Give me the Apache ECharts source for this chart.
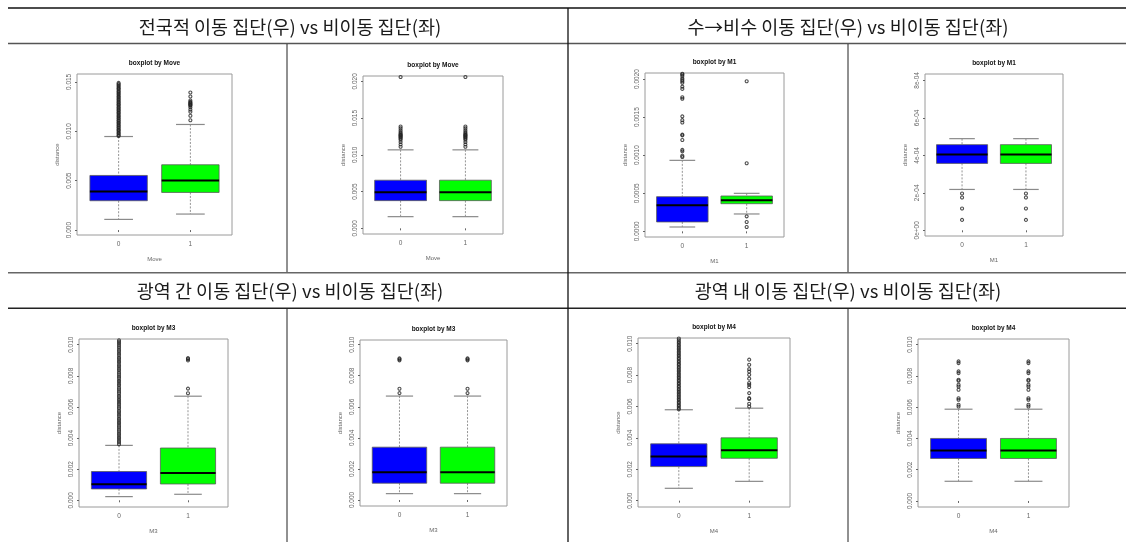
<!DOCTYPE html>
<html>
<head>
<meta charset="utf-8">
<script src="https://cdn.jsdelivr.net/npm/echarts@6/dist/echarts.min.js"></script>
<style>
  html, body { margin: 0; padding: 0; background: #fff; }
  #chart { width: 1126px; height: 542px; }
</style>
</head>
<body>
<div id="chart"></div>
<script>
// ---- section headings ----
const headings = [
  '전국적 이동 집단(우) vs 비이동 집단(좌)',
  '수→비수 이동 집단(우) vs 비이동 집단(좌)',
  '광역 간 이동 집단(우) vs 비이동 집단(좌)',
  '광역 내 이동 집단(우) vs 비이동 집단(좌)'
];

// group labels on every x axis (non-mover = 0, mover = 1)
const groupLabels = ['0', '1'];

// ---- y tick values and labels ----
const ticksMove = [0, 0.005, 0.010, 0.015];
const tickLabelsMove = ['0.000', '0.005', '0.010', '0.015'];
const ticksMoveRef = [0, 0.005, 0.010, 0.015, 0.020];
const tickLabelsMoveRef = ['0.000', '0.005', '0.010', '0.015', '0.020'];
const ticksM1 = [0, 0.0005, 0.0010, 0.0015, 0.0020];
const tickLabelsM1 = ['0.0000', '0.0005', '0.0010', '0.0015', '0.0020'];
const ticksM1Ref = [0, 0.0002, 0.0004, 0.0006, 0.0008];
const tickLabelsM1Ref = ['0e+00', '2e-04', '4e-04', '6e-04', '8e-04'];
const ticksM34 = [0, 0.002, 0.004, 0.006, 0.008, 0.010];
const tickLabelsM34 = ['0.000', '0.002', '0.004', '0.006', '0.008', '0.010'];

// ---- box statistics: [lower whisker, Q1, median, Q3, upper whisker] for groups 0 and 1 ----
const boxMove = [[0.00108, 0.00297, 0.00391, 0.00553, 0.00947], [0.00162, 0.00381, 0.00502, 0.00661, 0.01069]];
const boxMoveRef = [[0.00159, 0.00377, 0.00491, 0.00655, 0.01068], [0.00159, 0.00377, 0.00491, 0.00655, 0.01068]];
const boxM1 = [[0.000057, 0.000123, 0.000341, 0.000455, 0.000932], [0.000228, 0.000363, 0.000407, 0.000464, 0.000499]];
const boxM1Ref = [[0.000218, 0.000357, 0.000404, 0.000457, 0.000489], [0.000218, 0.000357, 0.000404, 0.000457, 0.000489]];
const boxM3 = [[0.000237, 0.000731, 0.00103, 0.00185, 0.00353], [0.000387, 0.00105, 0.00176, 0.00336, 0.00669]];
const boxM3Ref = [[0.000409, 0.00108, 0.00179, 0.00340, 0.00669], [0.000409, 0.00108, 0.00179, 0.00340, 0.00669]];
const boxM4 = [[0.000787, 0.00217, 0.00281, 0.00362, 0.00579], [0.00123, 0.00270, 0.00321, 0.00400, 0.00589]];
const boxM4Ref = [[0.00126, 0.00272, 0.00323, 0.00400, 0.00587], [0.00126, 0.00272, 0.00323, 0.00400, 0.00587]];

// ---- outliers per group ----
const outMove0 = [0.00952, 0.00961, 0.00975, 0.00984, 0.00998, 0.01011, 0.01019, 0.01034, 0.01043, 0.01057,
  0.01066, 0.01081, 0.01090, 0.01104, 0.01113, 0.01128, 0.01137, 0.01151, 0.01160, 0.01174, 0.01186, 0.01195,
  0.01210, 0.01218, 0.01233, 0.01242, 0.01256, 0.01268, 0.01277, 0.01292, 0.01300, 0.01315, 0.01324, 0.01338,
  0.01350, 0.01359, 0.01374, 0.01382, 0.01397, 0.01406, 0.01420, 0.01432, 0.01441, 0.01455, 0.01466, 0.01478, 0.01490];
const outMove1 = [0.01112, 0.01158, 0.01198, 0.01219, 0.01242, 0.01258, 0.01266, 0.01274, 0.01281, 0.01290,
  0.01298, 0.01312, 0.01352, 0.01393];
const outMoveRef0 = [0.01110, 0.01142, 0.01175, 0.01205, 0.01222, 0.01236, 0.01248, 0.01259, 0.01268, 0.01279,
  0.01292, 0.01310, 0.01335, 0.01362, 0.01386, 0.0206];
const outMoveRef1 = [0.01110, 0.01142, 0.01175, 0.01205, 0.01222, 0.01236, 0.01248, 0.01259, 0.01268, 0.01279,
  0.01292, 0.01310, 0.01335, 0.01362, 0.01386, 0.0206];
const outM1_0 = [0.000976, 0.000993, 0.00105, 0.00107, 0.00120, 0.00126, 0.00127, 0.00143, 0.00146, 0.00151,
  0.00174, 0.00176, 0.00187, 0.00190, 0.00195, 0.00197, 0.00199, 0.00201, 0.00204, 0.00206, 0.00207];
const outM1_1 = [0.000057, 0.000123, 0.000197, 0.000893, 0.00197];
const outM1Ref0 = [0.0000554, 0.000116, 0.000175, 0.000196];
const outM1Ref1 = [0.0000554, 0.000116, 0.000175, 0.000196];
const outM3_0 = [0.00360, 0.00372, 0.00383, 0.00396, 0.00407, 0.00420, 0.00431, 0.00444, 0.00455, 0.00468,
  0.00479, 0.00492, 0.00503, 0.00516, 0.00527, 0.00541, 0.00552, 0.00565, 0.00576, 0.00590, 0.00601, 0.00614,
  0.00626, 0.00638, 0.00650, 0.00663, 0.00674, 0.00688, 0.00699, 0.00712, 0.00723, 0.00737, 0.00748, 0.00761,
  0.00772, 0.00786, 0.00797, 0.00810, 0.00822, 0.00835, 0.00846, 0.00859, 0.00870, 0.00884, 0.00895, 0.00908,
  0.00919, 0.00933, 0.00944, 0.00957, 0.00968, 0.00981, 0.00993, 0.01006, 0.01017, 0.01028];
const outM3_1 = [0.00688, 0.00718, 0.00899, 0.00908, 0.00914];
const outM3Ref0 = [0.00688, 0.00716, 0.00899, 0.00906, 0.00912];
const outM3Ref1 = [0.00688, 0.00716, 0.00899, 0.00906, 0.00912];
const outM4_0 = [0.00582, 0.00591, 0.00602, 0.00611, 0.00622, 0.00631, 0.00642, 0.00651, 0.00662, 0.00671,
  0.00682, 0.00691, 0.00702, 0.00711, 0.00722, 0.00731, 0.00742, 0.00751, 0.00762, 0.00771, 0.00782, 0.00791,
  0.00802, 0.00811, 0.00822, 0.00831, 0.00842, 0.00851, 0.00862, 0.00871, 0.00882, 0.00891, 0.00902, 0.00911,
  0.00922, 0.00931, 0.00942, 0.00951, 0.00962, 0.00971, 0.00982, 0.00991, 0.01002, 0.01011, 0.01022, 0.01033];
const outM4_1 = [0.00600, 0.00617, 0.00647, 0.00653, 0.00685, 0.00723, 0.00738, 0.00749, 0.00777, 0.00802,
  0.00823, 0.00838, 0.00866, 0.00898];
const outM4Ref0 = [0.00604, 0.00615, 0.00647, 0.00657, 0.00711, 0.00732, 0.00743, 0.00769, 0.00775, 0.00818,
  0.00829, 0.00882, 0.00893];
const outM4Ref1 = [0.00604, 0.00615, 0.00647, 0.00657, 0.00711, 0.00732, 0.00743, 0.00769, 0.00775, 0.00818,
  0.00829, 0.00882, 0.00893];

// ---- panel layout (plot frame in pixels, y range, labels) ----
const panels = [
  { left: 77,  top: 74,  width: 155, height: 161, ymin: -0.0005,   ymax: 0.0158,   ticks: ticksMove,   labels: tickLabelsMove,   box: boxMove,    out: [outMove0, outMove1],       factor: 'Move' },
  { left: 363, top: 76,  width: 140, height: 158, ymin: -0.00077,  ymax: 0.02073,  ticks: ticksMoveRef, labels: tickLabelsMoveRef, box: boxMoveRef, out: [outMoveRef0, outMoveRef1], factor: 'Move' },
  { left: 645, top: 73,  width: 139, height: 164, ymin: -0.0000744, ymax: 0.002079, ticks: ticksM1,    labels: tickLabelsM1,     box: boxM1,      out: [outM1_0, outM1_1],         factor: 'M1' },
  { left: 925, top: 74,  width: 138, height: 162, ymin: -0.0000304, ymax: 0.000834, ticks: ticksM1Ref, labels: tickLabelsM1Ref,  box: boxM1Ref,   out: [outM1Ref0, outM1Ref1],     factor: 'M1' },
  { left: 79,  top: 339, width: 149, height: 168, ymin: -0.00043,  ymax: 0.010366, ticks: ticksM34,    labels: tickLabelsM34,    box: boxM3,      out: [outM3_0, outM3_1],         factor: 'M3' },
  { left: 360, top: 340, width: 147, height: 166, ymin: -0.000387, ymax: 0.0103,   ticks: ticksM34,    labels: tickLabelsM34,    box: boxM3Ref,   out: [outM3Ref0, outM3Ref1],     factor: 'M3' },
  { left: 638, top: 338, width: 152, height: 169, ymin: -0.000404, ymax: 0.01036,  ticks: ticksM34,    labels: tickLabelsM34,    box: boxM4,      out: [outM4_0, outM4_1],         factor: 'M4' },
  { left: 918, top: 339, width: 151, height: 168, ymin: -0.000385, ymax: 0.01036,  ticks: ticksM34,    labels: tickLabelsM34,    box: boxM4Ref,   out: [outM4Ref0, outM4Ref1],     factor: 'M4' }
];

const BOX_FILL = ['#0000ff', '#00ff00'];
const AXIS_GRAY = '#666';

function renderBox(params, api) {
  const x = api.value(0);
  const lo = api.value(1), q1 = api.value(2), med = api.value(3), q3 = api.value(4), hi = api.value(5);
  const tl = api.coord([x - 0.4, q3]);
  const br = api.coord([x + 0.4, q1]);
  const mL = api.coord([x - 0.4, med]);
  const mR = api.coord([x + 0.4, med]);
  const cHi = api.coord([x, hi]);
  const cQ3 = api.coord([x, q3]);
  const cQ1 = api.coord([x, q1]);
  const cLo = api.coord([x, lo]);
  const capHalf = (br[0] - tl[0]) / 4;
  const whisk = { stroke: '#7a7a7a', lineWidth: 0.8, lineDash: [2, 1.5] };
  const cap = { stroke: '#8a8a8a', lineWidth: 1.2 };
  return {
    type: 'group',
    children: [
      { type: 'line', shape: { x1: cHi[0], y1: cHi[1], x2: cQ3[0], y2: cQ3[1] }, style: whisk },
      { type: 'line', shape: { x1: cQ1[0], y1: cQ1[1], x2: cLo[0], y2: cLo[1] }, style: whisk },
      { type: 'line', shape: { x1: cHi[0] - capHalf, y1: cHi[1], x2: cHi[0] + capHalf, y2: cHi[1] }, style: cap },
      { type: 'line', shape: { x1: cLo[0] - capHalf, y1: cLo[1], x2: cLo[0] + capHalf, y2: cLo[1] }, style: cap },
      { type: 'rect', shape: { x: tl[0], y: tl[1], width: br[0] - tl[0], height: br[1] - tl[1] },
        style: { fill: BOX_FILL[params.dataIndex], stroke: '#5c5c5c', lineWidth: 0.8 } },
      { type: 'line', shape: { x1: mL[0], y1: mL[1], x2: mR[0], y2: mR[1] }, style: { stroke: '#000', lineWidth: 2 } }
    ]
  };
}

const grid = [], xAxis = [], yAxis = [], series = [];
const graphic = [];

panels.forEach((p, i) => {
  grid.push({ left: p.left, top: p.top, width: p.width, height: p.height, show: true,
    borderColor: '#9a9a9a', borderWidth: 1, backgroundColor: '#fff' });
  xAxis.push({
    gridIndex: i, type: 'value', min: 0.42, max: 2.58,
    axisLine: { show: false }, splitLine: { show: false },
    axisTick: { show: true, customValues: [1, 2], length: 2, lineStyle: { color: AXIS_GRAY } },
    axisLabel: { customValues: [1, 2], formatter: v => groupLabels[Math.round(v) - 1],
      fontSize: 6.5, color: AXIS_GRAY, margin: 6, fontFamily: 'Liberation Sans' },
    name: p.factor, nameLocation: 'middle', nameGap: 21,
    nameTextStyle: { fontSize: 6, color: AXIS_GRAY, fontFamily: 'Liberation Sans' }
  });
  yAxis.push({
    gridIndex: i, type: 'value', min: p.ymin, max: p.ymax,
    axisLine: { show: false }, splitLine: { show: false },
    axisTick: { show: true, customValues: p.ticks, length: 2, lineStyle: { color: AXIS_GRAY } },
    axisLabel: { customValues: p.ticks, rotate: 90, fontSize: 6.5, color: AXIS_GRAY, margin: 4,
      fontFamily: 'Liberation Sans',
      formatter: v => {
        const k = p.ticks.findIndex(t => Math.abs(t - v) < 1e-12);
        return k >= 0 ? p.labels[k] : '';
      } },
    name: 'distance', nameLocation: 'middle', nameGap: 17, nameRotate: 90,
    nameTextStyle: { fontSize: 6, color: AXIS_GRAY, fontFamily: 'Liberation Sans' }
  });
  series.push({
    type: 'custom', xAxisIndex: i, yAxisIndex: i, z: 2,
    renderItem: renderBox,
    encode: { x: 0, y: [1, 2, 3, 4, 5] },
    data: p.box.map((b, g) => [g + 1].concat(b))
  });
  const pts = [];
  p.out.forEach((arr, g) => arr.forEach(v => pts.push([g + 1, v])));
  series.push({
    type: 'scatter', xAxisIndex: i, yAxisIndex: i, z: 3,
    symbol: 'circle', symbolSize: 3, silent: true,
    itemStyle: { color: 'rgba(255,255,255,0)', borderColor: '#222', borderWidth: 1.1 },
    data: pts
  });
  // panel title
  graphic.push({
    type: 'text', z: 10,
    x: p.left + p.width / 2, y: p.top - 11,
    style: { text: 'boxplot by ' + p.factor, fill: '#111', font: 'bold 6.5px "Liberation Sans"',
      align: 'center', verticalAlign: 'middle' }
  });
});

// table rules
const rule = (x1, y1, x2, y2, color, w) => ({
  type: 'line', z: 20, shape: { x1, y1, x2, y2 }, style: { stroke: color, lineWidth: w }
});
graphic.push(
  rule(8, 8, 1126, 8, '#111', 1.5),
  rule(8, 43.5, 1126, 43.5, '#555', 1.6),
  rule(8, 272.8, 1126, 272.8, '#666', 1.6),
  rule(8, 308.2, 1126, 308.2, '#222', 1.6),
  rule(568, 8, 568, 542, '#111', 1.3),
  rule(287, 44, 287, 272, '#222', 1),
  rule(287, 308, 287, 542, '#222', 1),
  rule(848, 44, 848, 272, '#222', 1),
  rule(848, 308, 848, 542, '#222', 1)
);
const headPos = [[290, 27], [848, 27], [290, 291], [848, 291]];
headings.forEach((t, k) => {
  graphic.push({
    type: 'text', z: 20, x: headPos[k][0], y: headPos[k][1],
    style: { text: t, fill: '#1a1a1a', font: '18.5px "Noto Sans CJK KR"', align: 'center', verticalAlign: 'middle' }
  });
});

const chart = echarts.init(document.getElementById('chart'), null, { renderer: 'canvas' });
chart.setOption({
  animation: false,
  backgroundColor: '#fff',
  grid, xAxis, yAxis, series, graphic
});
</script>
</body>
</html>
